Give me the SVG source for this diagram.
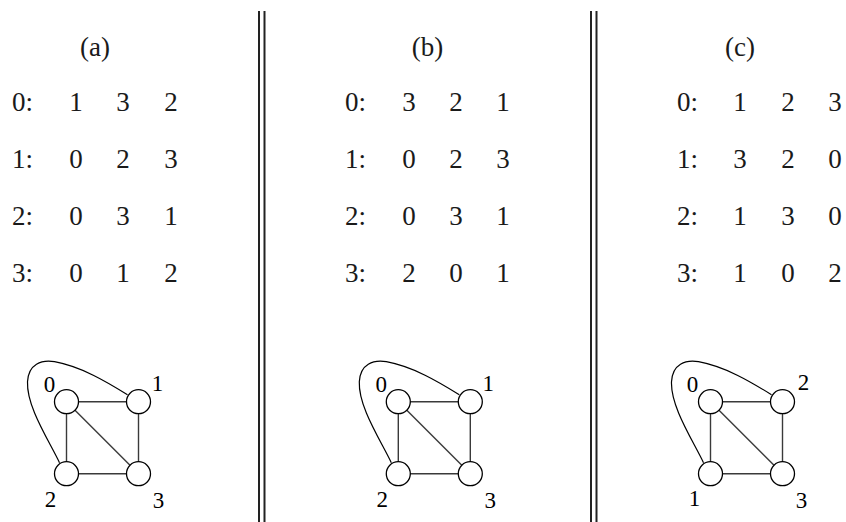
<svg xmlns="http://www.w3.org/2000/svg" width="846" height="522" viewBox="0 0 846 522">
  <defs>
    <!-- square graph: corners at (0,0) (72,0) (0,72) (72,72), origin = top-left vertex -->
    <g id="edges" fill="none">
      <g stroke="#3a3a3a" stroke-width="1.4">
        <line x1="0" y1="0" x2="72" y2="0"/>
        <line x1="0" y1="0" x2="0" y2="72"/>
        <line x1="72" y1="0" x2="72" y2="72"/>
        <line x1="0" y1="72" x2="72" y2="72"/>
        <line x1="0" y1="0" x2="72" y2="72"/>
      </g>
      <path stroke="#000" stroke-width="1.2" d="M -7 61 C -18 38, -40 5, -39 -20 C -38 -38, -25 -42, -12 -40 C 15 -35, 40 -20, 61 -7"/>
    </g>
    <circle id="vtx" r="12" fill="#fff" stroke="#000" stroke-width="1.3"/>
  </defs>

  <rect width="846" height="522" fill="#fff"/>

  <!-- double separators -->
  <g id="separators" stroke="#222" stroke-width="2">
    <line x1="259" y1="11" x2="259" y2="522"/>
    <line x1="264.5" y1="11" x2="264.5" y2="522"/>
    <line x1="591" y1="11" x2="591" y2="522"/>
    <line x1="596.5" y1="11" x2="596.5" y2="522"/>
  </g>

  <!-- panel (a) -->
  <g id="table-a" font-family="Liberation Serif" font-size="27" fill="#1a1a1a">
    <text text-anchor="middle" x="95" y="56">(a)</text>
    <text x="12" y="111">0:</text><text text-anchor="middle" x="76" y="111">1</text><text text-anchor="middle" x="123" y="111">3</text><text text-anchor="middle" x="171" y="111">2</text>
    <text x="12" y="168">1:</text><text text-anchor="middle" x="76" y="168">0</text><text text-anchor="middle" x="123" y="168">2</text><text text-anchor="middle" x="171" y="168">3</text>
    <text x="12" y="225">2:</text><text text-anchor="middle" x="76" y="225">0</text><text text-anchor="middle" x="123" y="225">3</text><text text-anchor="middle" x="171" y="225">1</text>
    <text x="12" y="282">3:</text><text text-anchor="middle" x="76" y="282">0</text><text text-anchor="middle" x="123" y="282">1</text><text text-anchor="middle" x="171" y="282">2</text>
  </g>
  <g id="graph-a" transform="translate(66.5 401.7)" font-family="Liberation Serif" font-size="23" text-anchor="middle">
    <g class="connectors"><use href="#edges"/></g>
    <g id="a-n0"><use href="#vtx" x="0" y="0"/><text x="-17" y="-10">0</text></g>
    <g id="a-n1"><use href="#vtx" x="72" y="0"/><text x="91" y="-11">1</text></g>
    <g id="a-n2"><use href="#vtx" x="0" y="72"/><text x="-16" y="105">2</text></g>
    <g id="a-n3"><use href="#vtx" x="72" y="72"/><text x="92" y="106">3</text></g>
  </g>

  <!-- panel (b) -->
  <g id="table-b" font-family="Liberation Serif" font-size="27" fill="#1a1a1a">
    <text text-anchor="middle" x="427.5" y="56">(b)</text>
    <text x="345" y="111">0:</text><text text-anchor="middle" x="409" y="111">3</text><text text-anchor="middle" x="456" y="111">2</text><text text-anchor="middle" x="503" y="111">1</text>
    <text x="345" y="168">1:</text><text text-anchor="middle" x="409" y="168">0</text><text text-anchor="middle" x="456" y="168">2</text><text text-anchor="middle" x="503" y="168">3</text>
    <text x="345" y="225">2:</text><text text-anchor="middle" x="409" y="225">0</text><text text-anchor="middle" x="456" y="225">3</text><text text-anchor="middle" x="503" y="225">1</text>
    <text x="345" y="282">3:</text><text text-anchor="middle" x="409" y="282">2</text><text text-anchor="middle" x="456" y="282">0</text><text text-anchor="middle" x="503" y="282">1</text>
  </g>
  <g id="graph-b" transform="translate(398.3 401.7)" font-family="Liberation Serif" font-size="23" text-anchor="middle">
    <g class="connectors"><use href="#edges"/></g>
    <g id="b-n0"><use href="#vtx" x="0" y="0"/><text x="-17" y="-10">0</text></g>
    <g id="b-n1"><use href="#vtx" x="72" y="0"/><text x="90" y="-11">1</text></g>
    <g id="b-n2"><use href="#vtx" x="0" y="72"/><text x="-16" y="105">2</text></g>
    <g id="b-n3"><use href="#vtx" x="72" y="72"/><text x="92" y="106">3</text></g>
  </g>

  <!-- panel (c) -->
  <g id="table-c" font-family="Liberation Serif" font-size="27" fill="#1a1a1a">
    <text text-anchor="middle" x="740" y="56">(c)</text>
    <text x="677" y="111">0:</text><text text-anchor="middle" x="740" y="111">1</text><text text-anchor="middle" x="788" y="111">2</text><text text-anchor="middle" x="835" y="111">3</text>
    <text x="677" y="168">1:</text><text text-anchor="middle" x="740" y="168">3</text><text text-anchor="middle" x="788" y="168">2</text><text text-anchor="middle" x="835" y="168">0</text>
    <text x="677" y="225">2:</text><text text-anchor="middle" x="740" y="225">1</text><text text-anchor="middle" x="788" y="225">3</text><text text-anchor="middle" x="835" y="225">0</text>
    <text x="677" y="282">3:</text><text text-anchor="middle" x="740" y="282">1</text><text text-anchor="middle" x="788" y="282">0</text><text text-anchor="middle" x="835" y="282">2</text>
  </g>
  <g id="graph-c" transform="translate(710.5 401.7)" font-family="Liberation Serif" font-size="23" text-anchor="middle">
    <g class="connectors"><use href="#edges"/></g>
    <g id="c-n0"><use href="#vtx" x="0" y="0"/><text x="-18" y="-10">0</text></g>
    <g id="c-n2"><use href="#vtx" x="72" y="0"/><text x="93" y="-12">2</text></g>
    <g id="c-n1"><use href="#vtx" x="0" y="72"/><text x="-16" y="104">1</text></g>
    <g id="c-n3"><use href="#vtx" x="72" y="72"/><text x="91" y="106">3</text></g>
  </g>
</svg>
